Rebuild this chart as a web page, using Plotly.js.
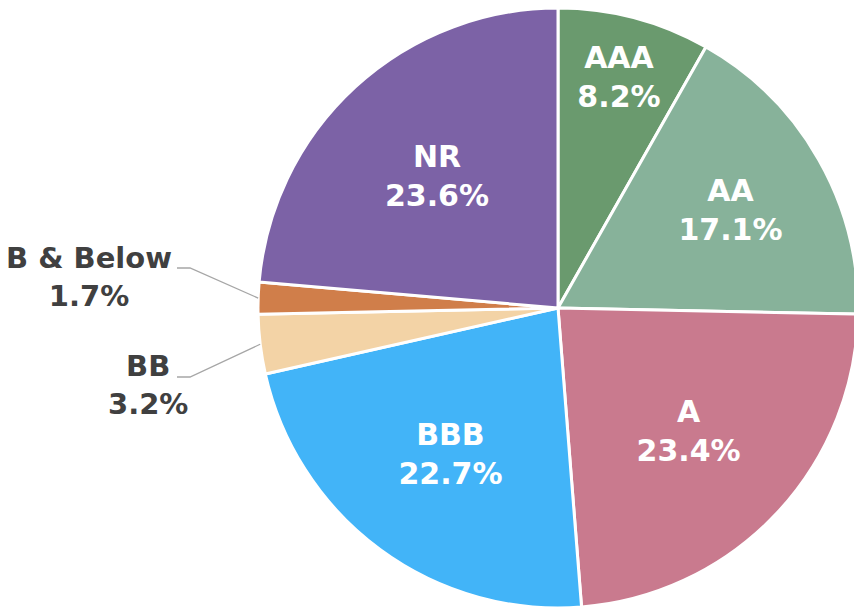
<!DOCTYPE html>
<html>
<head>
<meta charset="utf-8">
<script src="https://cdn.plot.ly/plotly-3.0.1.min.js"></script>
<style>
  html, body { margin: 0; padding: 0; overflow: hidden; background: #fff; }
</style>
</head>
<body>
<div id="chart"></div>
<script>
// Credit rating breakdown (% of portfolio)
const ratings = ['AAA', 'AA', 'A', 'BBB', 'BB', 'B & Below', 'NR'];
const shares = [8.2, 17.1, 23.4, 22.7, 3.2, 1.7, 23.6];
const colors = ['#6A9A6E', '#87B29A', '#C97A8E', '#42B4F8', '#F3D3A6', '#D07E4A', '#7C62A6'];
// slices whose label sits outside with a leader line
const outsideLabels = ['BB', 'B & Below'];

const W = 862, H = 608;          // slightly wider than window, clipped
const cx = 558, cy = 308, r = 300; // pie centre and radius in px

const fontFam = 'DejaVu Sans, Verdana, sans-serif';

let positions = ratings.map(n => outsideLabels.includes(n) ? 'none' : 'inside');

let trace = {
  type: 'pie',
  labels: ratings,
  values: shares,
  sort: false,
  direction: 'clockwise',
  rotation: 0,
  marker: { colors: colors, line: { color: '#ffffff', width: 3 } },
  texttemplate: '%{label}<br>%{value:.1f}%',
  textposition: positions,
  insidetextorientation: 'horizontal',
  insidetextfont: { color: '#ffffff', size: 30, family: fontFam, weight: 'bold' },
  hoverinfo: 'label+value',
  showlegend: false,
  domain: { x: [(cx - r) / W, (cx + r) / W], y: [1 - (cy + r) / H, 1 - (cy - r) / H] }
};

// leader lines + labels for the small slices, angle taken from the data
let total = shares.reduce((a, b) => a + b, 0);
let shapes = [];
let annotations = [];
// label placement in px: y of the leader elbow, label centre y, label right edge
let labelPos = {
  'BB': { ly: 377, ty: 385, tx: 190 },
  'B & Below': { ly: 268, ty: 277, tx: 174 }
};
let cum = 0;
ratings.forEach((name, i) => {
  let mid = (cum + shares[i] / 2) / total * 2 * Math.PI;
  cum += shares[i];
  if (!outsideLabels.includes(name)) return;
  let ex = cx + r * Math.sin(mid);
  let ey = cy - r * Math.cos(mid);
  let p = labelPos[name];
  let px = v => v / W, py = v => 1 - v / H;
  shapes.push({
    type: 'path', xref: 'paper', yref: 'paper',
    path: 'M' + px(ex) + ',' + py(ey) + ' L' + px(190) + ',' + py(p.ly) + ' L' + px(177) + ',' + py(p.ly),
    line: { color: '#A6A6A6', width: 1.3 }
  });
  annotations.push({
    xref: 'paper', yref: 'paper', x: px(p.tx), y: py(p.ty),
    xanchor: 'right', yanchor: 'middle', align: 'center', showarrow: false,
    text: name + '<br>' + shares[i].toFixed(1) + '%',
    font: { color: '#404040', size: 29, family: fontFam, weight: 'bold' }
  });
});

let layout = {
  width: W,
  height: H,
  margin: { l: 0, r: 0, t: 0, b: 0 },
  paper_bgcolor: '#ffffff',
  shapes: shapes,
  annotations: annotations
};

Plotly.newPlot('chart', [trace], layout, { displayModeBar: false, staticPlot: true });
</script>
</body>
</html>
